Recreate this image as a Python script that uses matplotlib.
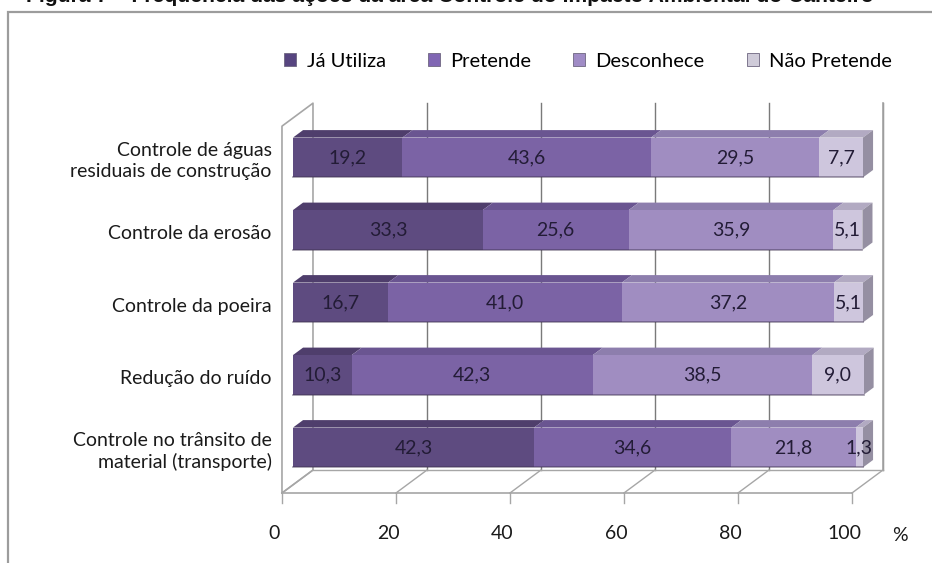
import matplotlib.pyplot as plt
import matplotlib.patches as mpatches
from matplotlib.patches import Polygon, Rectangle
import numpy as np

plt.rcParams['font.family'] = ['Lato', 'DejaVu Sans']

categorias = ["Controle de águas\nresiduais de construção",
              "Controle da erosão",
              "Controle da poeira",
              "Redução do ruído",
              "Controle no trânsito de\nmaterial (transporte)"]
series = ["Já Utiliza", "Pretende", "Desconhece", "Não Pretende"]
ja_utiliza = [19.2, 33.3, 16.7, 10.3, 42.3]
pretende = [43.6, 25.6, 41.0, 42.3, 34.6]
desconhece = [29.5, 35.9, 37.2, 38.5, 21.8]
nao_pretende = [7.7, 5.1, 5.1, 9.0, 1.3]
ticks = [0, 20, 40, 60, 80, 100]
titulo = "Figura 7 – Frequência das ações da área Controle do Impacto Ambiental do Canteiro"

valores = np.array([ja_utiliza, pretende, desconhece, nao_pretende])
frente = ['#5E4B80', '#7B63A5', '#A08DC1', '#CEC6DD']
topo = ['#4F3E6C', '#6A5591', '#8D7EAD', '#B2AAC2']
legenda_cor = ['#574580', '#8066B3', '#A08CC6', '#CFCBD9']
tampa = '#958FA2'
texto_cor = '#231C36'
fs = 14

# depth of the 3d box: the back plane is shifted up and to the right
DX, DY = 5.44, 0.317
z_frente, z_fundo = 0.355, 0.68
altura = 0.55
topo_parede = 5.06


def proj(v, y, z):
    return v + z * DX, y + z * DY


fig = plt.figure(figsize=(9.32, 5.63), dpi=100)
ax = fig.add_axes([0, 0, 1, 1])
ax.set_xlim(-49.47, 114.04)
ax.set_ylim(-0.9655, 6.80)
ax.axis('off')

grade = '#7A7A7A'
parede = '#A6A6A6'

# back wall gridlines
for t in ticks[1:]:
    x0, y0 = proj(t, 0, 1)
    x1, y1 = proj(t, topo_parede, 1)
    ax.plot([x0, x1], [y0, y1], color=grade, lw=1.0, zorder=1)

# left wall
xa, ya = proj(0, 0, 0)
xb, yb = proj(0, topo_parede, 0)
xc, yc = proj(0, topo_parede, 1)
xd, yd = proj(0, 0, 1)
ax.plot([xa, xb, xc, xd, xa], [ya, yb, yc, yd, ya], color=parede, lw=1.2, zorder=1)

# floor
fx0, fy0 = proj(0, 0, 0)
fx1, fy1 = proj(100, 0, 0)
ax.plot([fx0, fx1], [fy0, fy1], color=parede, lw=1.2, zorder=1)
bx0, by0 = proj(0, 0, 1)
bx1, by1 = proj(100, 0, 1)
ax.plot([bx0, bx1], [by0, by1], color=parede, lw=1.0, zorder=1)
for t in ticks:
    x0, y0 = proj(t, 0, 0)
    x1, y1 = proj(t, 0, 1)
    ax.plot([x0, x1], [y0, y1], color=parede, lw=1.0, zorder=1)
    ax.plot([x0, x0], [y0, y0 - 0.14], color=parede, lw=1.0, zorder=1)
    ax.text(t - 1.4, -0.56, str(t), ha='center', va='center', fontsize=fs,
            color='#1A1A1A')
ax.text(108.4, -0.58, '%', ha='center', va='center', fontsize=fs, color='#1A1A1A')

# right edge of the back wall
rx0, ry0 = proj(100, 0, 1)
rx1, ry1 = proj(100, topo_parede, 1)
ax.plot([rx0, rx1], [ry0, ry1], color=parede, lw=1.2, zorder=1)

posicoes = 0.515 + np.arange(len(categorias))[::-1]

for i, c in enumerate(posicoes):
    base = 0.0
    sup = c + altura / 2
    inf = c - altura / 2
    for s in range(len(series)):
        w = valores[s, i]
        # top face
        pts = [proj(base, sup, z_frente), proj(base + w, sup, z_frente),
               proj(base + w, sup, z_fundo), proj(base, sup, z_fundo)]
        ax.add_patch(Polygon(pts, closed=True, facecolor=topo[s],
                             edgecolor='none', zorder=3))
        # front face
        x0, y0 = proj(base, inf, z_frente)
        ax.add_patch(Rectangle((x0, y0), w, altura, facecolor=frente[s],
                               edgecolor='none', zorder=4))
        xt, yt = proj(base + w / 2, c, z_frente)
        ax.text(xt, yt, f"{w:.1f}".replace('.', ','), ha='center', va='center',
                fontsize=fs, color=texto_cor, zorder=6)
        base += w
    # right end cap
    pts = [proj(base, inf, z_frente), proj(base, sup, z_frente),
           proj(base, sup, z_fundo), proj(base, inf, z_fundo)]
    ax.add_patch(Polygon(pts, closed=True, facecolor=tampa,
                         edgecolor='none', zorder=3))
    # bottom shading of the front face
    x0, y0 = proj(0, inf, z_frente)
    ax.plot([x0, x0 + base], [y0, y0], color='#3E3250', lw=1.2, alpha=0.5, zorder=5)
    # category label
    ax.text(-1.8, c + 0.06, categorias[i], ha='right', va='center', fontsize=fs,
            color='#1A1A1A', linespacing=1.3)

handles = [mpatches.Patch(facecolor=legenda_cor[s], edgecolor='#6E6680', lw=0.6,
                          label=series[s]) for s in range(len(series))]
fig.legend(handles=handles, loc='center', bbox_to_anchor=(0.631, 1 - 61 / 563),
           ncol=4, frameon=False, fontsize=fs + 0.5, handlelength=0.6,
           handleheight=0.6, handletextpad=0.5, columnspacing=2.1)

# chart border and clipped caption above it
fig.patches.append(Rectangle((8 / 932, -0.05), 1.2, 1.05 - 12 / 563,
                             transform=fig.transFigure, fill=False,
                             edgecolor='#9C9C9C', lw=1.6))
fig.text(26 / 932, 1 - 1.5 / 563, titulo, ha='left', va='baseline',
         fontsize=15.2, fontweight='bold', family='Liberation Sans', color='#111111')

fig.savefig('out.png', dpi=100)
